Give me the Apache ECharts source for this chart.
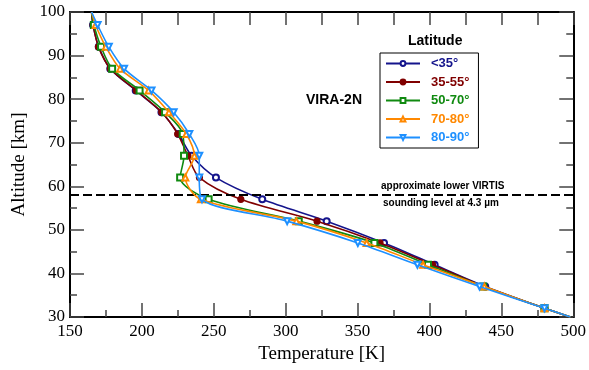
<!DOCTYPE html>
<html><head><meta charset="utf-8">
<script src="https://cdn.jsdelivr.net/npm/echarts@6/dist/echarts.min.js"></script>
<style>html,body{margin:0;padding:0;background:#fff}#c{width:589px;height:370px}</style>
</head><body><div id="c"></div><script>
// Altitude levels [km]
const altitudes = [100, 97, 92, 87, 82, 77, 72, 67, 62, 57, 52, 47, 42, 37, 32, 30];
// Temperature [K] per latitude band
const lat00_35 = [165, 166.0, 170.0, 178.0, 195.7, 213.6, 225.5, 234.6, 251.5, 283.7, 328.5, 368.4, 403.6, 438.8, 480, 498];
const lat35_55 = [165, 166.1, 169.8, 178.1, 196.1, 213.8, 224.9, 232.0, 240.0, 268.8, 321.8, 365.6, 402.1, 437.8, 480, 498];
const lat50_70 = [165, 166.6, 171.6, 179.3, 198.4, 216.1, 228.4, 229.3, 226.6, 246.4, 309.1, 361.7, 399.0, 437.4, 480, 498];
const lat70_80 = [165, 167.8, 174.9, 184.8, 204.6, 218.8, 230.9, 236.5, 230.2, 241.0, 307.4, 356.3, 395.6, 438.1, 480, 498];
const lat80_90 = [165, 169.2, 177.0, 187.6, 206.7, 222.1, 233.0, 239.9, 239.9, 241.8, 301.0, 350.2, 391.6, 434.8, 480, 498];
const seriesNames = ['<35°', '35-55°', '50-70°', '70-80°', '80-90°'];
const seriesValues = [lat00_35, lat35_55, lat50_70, lat70_80, lat80_90];
const virtisLevel = 58;

const colors = ['#14148c', '#800000', '#108a10', '#ff8800', '#1e90ff'];
const symbols = ['emptyCircle', 'circle', 'emptyRect', 'emptyTriangle', 'emptyTriangle'];
const rotates = [0, 0, 0, 0, 180];

const serif = '"Liberation Serif", "DejaVu Serif", serif';
const sans = '"Liberation Sans", Arial, sans-serif';

const chart = echarts.init(document.getElementById('c'), null, {renderer: 'canvas'});

const series = seriesNames.map((name, s) => {
  const data = altitudes.map((h, i) => {
    const item = {value: [seriesValues[s][i], h]};
    if (h === 100 || h === 30) item.symbol = 'none';
    return item;
  });
  const ser = {
    name, type: 'line', data, smooth: 0.3,
    symbol: symbols[s], symbolSize: 6, symbolRotate: rotates[s],
    showAllSymbol: true,
    lineStyle: {color: colors[s], width: 1.6},
    itemStyle: {color: colors[s], borderColor: colors[s], borderWidth: 1.2},
    z: 3 + s
  };
  if (s === 0) {
    ser.markLine = {
      silent: true, symbol: 'none', label: {show: false},
      lineStyle: {color: '#000', type: [9, 4], width: 2},
      data: [{yAxis: virtisLevel}]
    };
  }
  return ser;
});

const tickStyle = {color: '#444', width: 1.5};
const option = {
  backgroundColor: '#fff',
  animation: false,
  grid: {left: 70, right: 13, top: 12, bottom: 53, show: false},
  xAxis: [{
    type: 'value', min: 150, max: 500, interval: 50, position: 'bottom',
    name: 'Temperature [K]', nameLocation: 'middle', nameGap: 27,
    nameTextStyle: {fontFamily: serif, fontSize: 19, color: '#000'},
    axisLine: {show: true, onZero: false, lineStyle: {color: '#000', width: 2}},
    axisTick: {show: true, inside: true, length: 14, lineStyle: tickStyle},
    minorTick: {show: true, splitNumber: 2, length: 7, lineStyle: tickStyle},
    axisLabel: {fontFamily: serif, fontSize: 17, color: '#000', margin: 6},
    splitLine: {show: false}
  }, {
    type: 'value', min: 150, max: 500, interval: 25, position: 'top',
    axisLine: {show: true, onZero: false, lineStyle: {color: '#000', width: 2}},
    axisTick: {show: true, inside: true, length: 13, lineStyle: tickStyle},
    axisLabel: {show: false}, splitLine: {show: false}
  }],
  yAxis: [{
    type: 'value', min: 30, max: 100, interval: 10, position: 'left',
    name: 'Altitude [km]', nameLocation: 'middle', nameGap: 38,
    nameTextStyle: {fontFamily: serif, fontSize: 19, color: '#000'},
    axisLine: {show: true, onZero: false, lineStyle: {color: '#000', width: 2}},
    axisTick: {show: true, inside: true, length: 14, lineStyle: tickStyle},
    minorTick: {show: true, splitNumber: 2, length: 7, lineStyle: tickStyle},
    axisLabel: {fontFamily: serif, fontSize: 17, color: '#000', margin: 5},
    splitLine: {show: false}
  }, {
    type: 'value', min: 30, max: 100, interval: 10, position: 'right',
    axisLine: {show: true, onZero: false, lineStyle: {color: '#000', width: 2}},
    axisTick: {show: true, inside: true, length: 14, lineStyle: tickStyle},
    minorTick: {show: true, splitNumber: 2, length: 7, lineStyle: tickStyle},
    axisLabel: {show: false}, splitLine: {show: false}
  }],
  legend: {
    orient: 'vertical', left: 380, top: 53,
    itemWidth: 34, itemHeight: 6, itemGap: 5.5,
    padding: [4, 9, 4, 5],
    borderColor: '#000', borderWidth: 1, backgroundColor: '#fff',
    data: seriesNames.map((n, i) => ({name: n, textStyle: {color: colors[i]}})),
    textStyle: {fontFamily: sans, fontSize: 13, fontWeight: 'bold', padding: [0, 0, 0, 6]}
  },
  graphic: [
    {type: 'text', left: 408, top: 34, style: {text: 'Latitude', font: 'bold 14px ' + sans, fill: '#000'}},
    {type: 'text', left: 306, top: 93, style: {text: 'VIRA-2N', font: 'bold 14px ' + sans, fill: '#000'}},
    {type: 'text', left: 381, top: 181, style: {text: 'approximate lower VIRTIS', font: 'bold 10px ' + sans, fill: '#000'}},
    {type: 'text', left: 383, top: 198, style: {text: 'sounding level at 4.3 µm', font: 'bold 10px ' + sans, fill: '#000'}}
  ],
  series
};
chart.setOption(option);
</script></body></html>
